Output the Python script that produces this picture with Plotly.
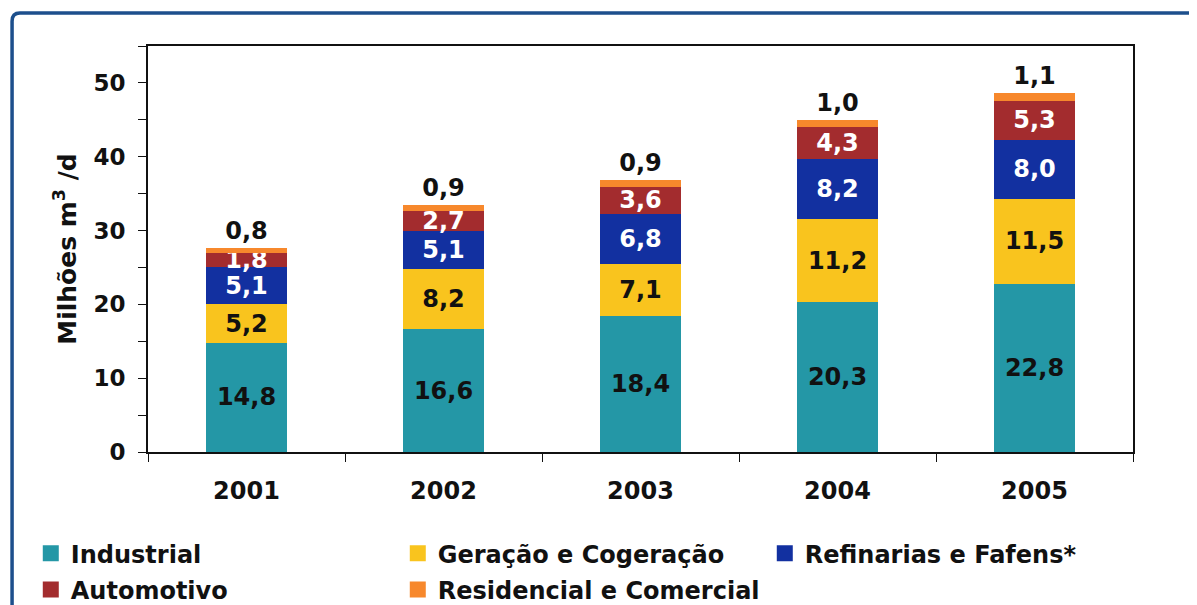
import plotly.graph_objects as go

years = ["2001", "2002", "2003", "2004", "2005"]
industrial = [14.8, 16.6, 18.4, 20.3, 22.8]
geracao = [5.2, 8.2, 7.1, 11.2, 11.5]
refinarias = [5.1, 5.1, 6.8, 8.2, 8.0]
automotivo = [1.8, 2.7, 3.6, 4.3, 5.3]
residencial = [0.8, 0.9, 0.9, 1.0, 1.1]

series = [
    ("Industrial", industrial, "#2497a6", "#111111", "inside"),
    ("Geração e Cogeração", geracao, "#f9c41e", "#111111", "inside"),
    ("Refinarias e Fafens*", refinarias, "#1230a0", "#ffffff", "inside"),
    ("Automotivo", automotivo, "#a32c2e", "#ffffff", "inside"),
    ("Residencial e Comercial", residencial, "#f7882c", "#111111", "outside"),
]

FONT = "DejaVu Sans"
fig = go.Figure()
for i, (name, vals, color, tcolor, pos) in enumerate(series):
    txt = [f"{v:.1f}".replace(".", ",") for v in vals]
    fig.add_trace(go.Bar(
        x=years, y=vals, name=name, marker=dict(color=color, line=dict(width=0)),
        text=txt, textposition=pos, constraintext="none", cliponaxis=False,
        insidetextanchor="middle",
        textfont=dict(family=FONT, size=24, color=tcolor, weight="bold"),
        showlegend=False, width=0.41,
    ))
    fig.add_trace(go.Scatter(
        x=[None], y=[None], mode="markers", name=name,
        marker=dict(symbol="square", size=20, color=color),
        legend="legend" if i in (0, 1, 2) else "legend2",
    ))

legend_common = dict(orientation="h", xanchor="left", yanchor="top",
                     entrywidth=322, entrywidthmode="pixels", itemsizing="trace",
                     traceorder="normal",
                     font=dict(family=FONT, size=24, color="#111111", weight="bold"),
                     bgcolor="rgba(0,0,0,0)")

fig.update_layout(
    barmode="stack",
    width=1197, height=605,
    margin=dict(l=140, r=72, t=38, b=161, autoexpand=False),
    paper_bgcolor="white", plot_bgcolor="white",
    font=dict(family=FONT, size=23, color="#111111", weight="bold"),
    legend=dict(x=-0.119, y=-0.195, **legend_common),
    legend2=dict(x=-0.119, y=-0.284, **legend_common),
    shapes=[dict(type="path", xref="paper", yref="paper",
                 path="M -0.138,-0.42 L -0.138,1.061 Q -0.138,1.081 -0.130,1.081 L 1.08,1.081",
                 line=dict(color="#1d4f8c", width=3.5))],
)
fig.update_xaxes(
    showline=True, linecolor="#111111", linewidth=2, mirror=True,
    ticks="outside", tickson="boundaries", ticklen=8, tickcolor="#111111",
    tickfont=dict(family=FONT, size=24, weight="bold"), ticklabelstandoff=16,
    showgrid=False,
)
fig.update_yaxes(
    range=[0, 55], dtick=10, tick0=0,
    showline=True, linecolor="#111111", linewidth=2, mirror=True,
    ticks="outside", ticklen=8, tickcolor="#111111",
    minor=dict(dtick=5, ticks="outside", ticklen=8, tickcolor="#111111", showgrid=False),
    tickfont=dict(family=FONT, size=23, weight="bold"), ticklabelstandoff=8,
    showgrid=False, zeroline=False,
    title=dict(text="Milhões m<sup>3</sup> /d", standoff=10,
               font=dict(family=FONT, size=25, weight="bold")),
)
fig.write_html("out.html")
